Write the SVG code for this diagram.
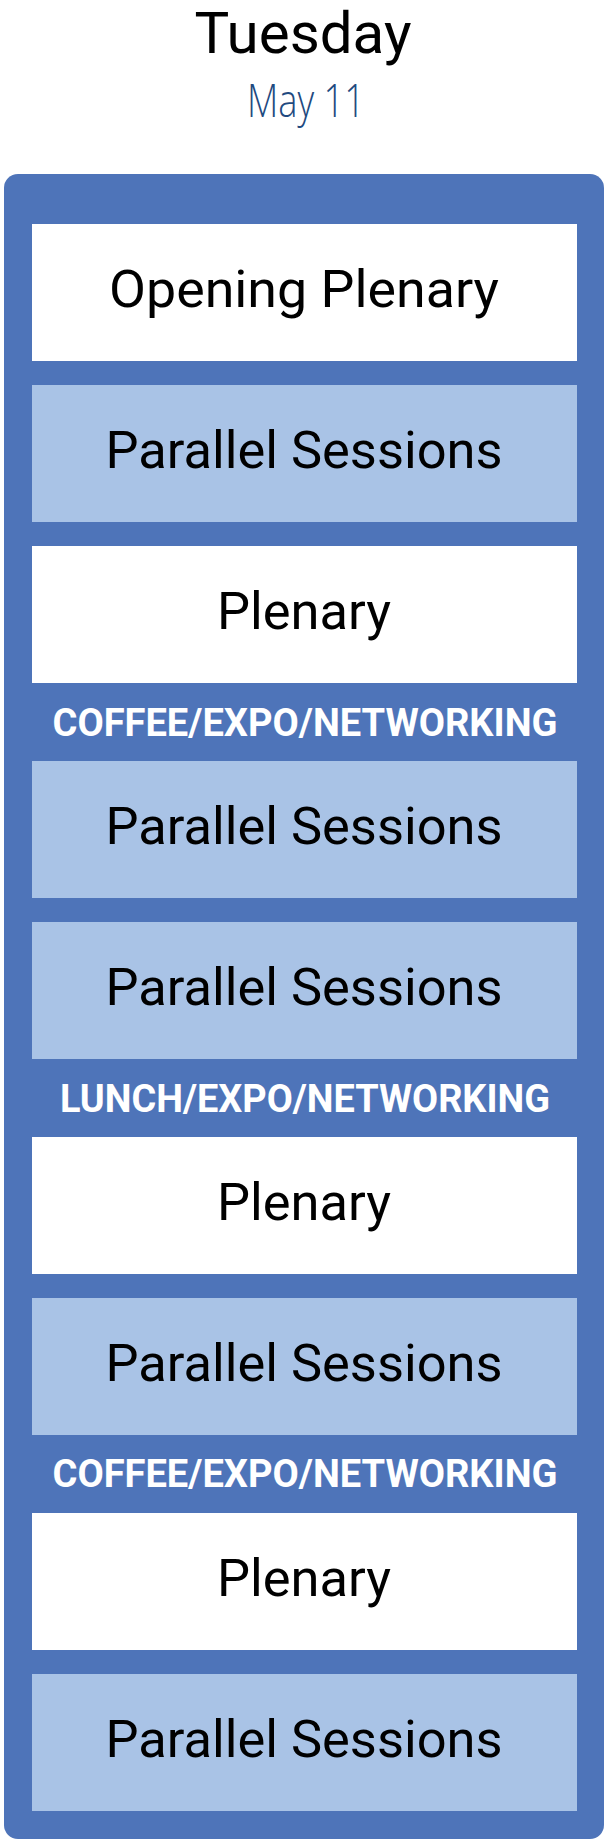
<svg xmlns="http://www.w3.org/2000/svg" width="610" height="1842" viewBox="0 0 610 1842">
<style>
.bg{fill:#ffffff}
.outer{fill:#4e74b9}
.white{fill:#ffffff}
.light{fill:#a9c3e6}
.t{font-family:Roboto,"Liberation Sans",sans-serif;font-size:52px;fill:#000000;text-anchor:middle}
.lbl{font-family:Roboto,"Liberation Sans",sans-serif;font-weight:bold;font-size:39px;fill:#ffffff;text-anchor:middle}
.day{font-family:Roboto,"Liberation Sans",sans-serif;font-size:57px;fill:#000000;text-anchor:middle}
.date{font-family:"Open Sans","Noto Sans",sans-serif;font-weight:300;font-size:46px;fill:#1f4a80;text-anchor:middle}
</style>
<rect class="bg" x="0" y="0" width="610" height="1842"/>
<g id="header">
<text class="day" x="303" y="53" textLength="217" lengthAdjust="spacingAndGlyphs">Tuesday</text>
<text class="date" x="306" y="117" textLength="118" lengthAdjust="spacingAndGlyphs">May 11</text>
</g>
<g id="day-column">
<rect class="outer" x="4" y="174" width="600" height="1665" rx="14" ry="14"/>
</g>
<g id="s1"><rect class="white" x="32" y="224" width="545" height="137"/><text class="t" x="304" y="307" textLength="390" lengthAdjust="spacingAndGlyphs">Opening Plenary</text></g>
<g id="s2"><rect class="light" x="32" y="385" width="545" height="137"/><text class="t" x="304" y="468" textLength="397" lengthAdjust="spacingAndGlyphs">Parallel Sessions</text></g>
<g id="s3"><rect class="white" x="32" y="546" width="545" height="137"/><text class="t" x="304" y="629" textLength="174" lengthAdjust="spacingAndGlyphs">Plenary</text></g>
<g id="b1"><text class="lbl" x="305" y="736" textLength="505" lengthAdjust="spacingAndGlyphs">COFFEE/EXPO/NETWORKING</text></g>
<g id="s4"><rect class="light" x="32" y="761" width="545" height="137"/><text class="t" x="304" y="844" textLength="397" lengthAdjust="spacingAndGlyphs">Parallel Sessions</text></g>
<g id="s5"><rect class="light" x="32" y="922" width="545" height="137"/><text class="t" x="304" y="1005" textLength="397" lengthAdjust="spacingAndGlyphs">Parallel Sessions</text></g>
<g id="b2"><text class="lbl" x="305" y="1112" textLength="490" lengthAdjust="spacingAndGlyphs">LUNCH/EXPO/NETWORKING</text></g>
<g id="s6"><rect class="white" x="32" y="1137" width="545" height="137"/><text class="t" x="304" y="1220" textLength="174" lengthAdjust="spacingAndGlyphs">Plenary</text></g>
<g id="s7"><rect class="light" x="32" y="1298" width="545" height="137"/><text class="t" x="304" y="1381" textLength="397" lengthAdjust="spacingAndGlyphs">Parallel Sessions</text></g>
<g id="b3"><text class="lbl" x="305" y="1487" textLength="505" lengthAdjust="spacingAndGlyphs">COFFEE/EXPO/NETWORKING</text></g>
<g id="s8"><rect class="white" x="32" y="1513" width="545" height="137"/><text class="t" x="304" y="1596" textLength="174" lengthAdjust="spacingAndGlyphs">Plenary</text></g>
<g id="s9"><rect class="light" x="32" y="1674" width="545" height="137"/><text class="t" x="304" y="1757" textLength="397" lengthAdjust="spacingAndGlyphs">Parallel Sessions</text></g>
<g id="connectors"></g>
</svg>
